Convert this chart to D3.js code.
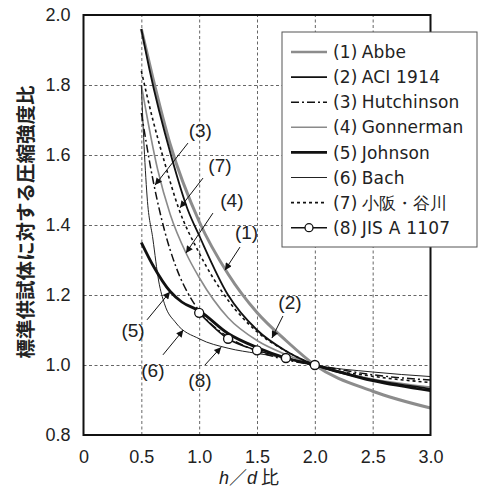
<!DOCTYPE html>
<html>
<head>
<meta charset="utf-8">
<script src="https://cdn.jsdelivr.net/npm/d3@7"></script>
<style>
  html, body { margin: 0; padding: 0; background: #fff; }
  svg { display: block; }
  .tick text { font-family: "Liberation Sans", Arial, sans-serif; font-size: 18px; fill: #222; }
  .grid line { stroke: #555; stroke-dasharray: 3,2.5; stroke-width: 0.9; }
  .grid .domain { display: none; }
  .lbl { font-family: "Liberation Sans", Arial, sans-serif; font-size: 19px; fill: #222; }
  .leg text { font-family: "DejaVu Sans", sans-serif; font-size: 17px; letter-spacing: 0.2px; fill: #222; }
</style>
</head>
<body>
<svg id="chart"></svg>
<script>
// ---- data (h/d ratio, strength ratio) ----
const abbe = [[0.5,1.96],[0.6,1.82],[0.75,1.63],[1.0,1.41],[1.25,1.26],[1.5,1.15],[1.75,1.07],[2.0,1.0],[2.5,0.925],[3.0,0.877]];
const aci1914 = [[0.5,1.96],[0.57,1.845],[0.76,1.595],[0.9,1.445],[1.0,1.37],[1.25,1.2],[1.5,1.1],[1.75,1.04],[2.0,1.0],[2.5,0.958],[3.0,0.932]];
const hutchinson = [[0.5,1.72],[0.6,1.53],[0.7,1.385],[0.8,1.28],[0.92,1.195],[1.0,1.155],[1.25,1.08],[1.5,1.04],[1.75,1.015],[2.0,1.0],[2.5,0.972],[3.0,0.957]];
const gonnerman = [[0.5,1.8],[0.64,1.56],[0.75,1.43],[0.886,1.32],[1.0,1.25],[1.25,1.135],[1.5,1.07],[1.75,1.03],[2.0,1.0],[2.5,0.96],[3.0,0.937]];
const johnson = [[0.5,1.35],[0.6,1.285],[0.75,1.21],[0.85,1.18],[1.0,1.155],[1.25,1.09],[1.5,1.05],[1.75,1.02],[2.0,1.0],[2.5,0.955],[3.0,0.927]];
const bach = [[0.5,1.8],[0.52,1.65],[0.55,1.48],[0.6,1.36],[0.65,1.24],[0.7,1.175],[0.8,1.12],[1.0,1.075],[1.25,1.048],[1.5,1.033],[1.75,1.02],[2.0,1.0],[2.5,0.98],[3.0,0.967]];
const kosaka = [[0.5,1.84],[0.6,1.7],[0.7,1.58],[0.82,1.45],[1.0,1.32],[1.25,1.185],[1.5,1.095],[1.75,1.04],[2.0,1.0],[2.5,0.968],[3.0,0.95]];
const jisA1107 = [[1.0,1.149],[1.25,1.075],[1.5,1.042],[1.75,1.02],[2.0,1.0]];

const seriesNames = ["(1)Abbe", "(2)ACI 1914", "(3)Hutchinson", "(4)Gonnerman", "(5)Johnson", "(6)Bach", "(7)小阪・谷川", "(8)JIS A 1107"];
const xTicks = [0, 0.5, 1.0, 1.5, 2.0, 2.5, 3.0];
const yTicks = [0.8, 1.0, 1.2, 1.4, 1.6, 1.8, 2.0];

// callout labels: text, label position, arrow start, arrow tip (data units)
const callouts = [
  { t: "(3)", at: [1.01, 1.651], from: [0.903, 1.634], to: [0.618, 1.514] },
  { t: "(7)", at: [1.18, 1.551], from: [1.033, 1.534], to: [0.834, 1.449] },
  { t: "(4)", at: [1.283, 1.451], from: [1.119, 1.434], to: [0.886, 1.32] },
  { t: "(1)", at: [1.41, 1.36], from: [1.353, 1.337], to: [1.223, 1.271] },
  { t: "(2)", at: [1.785, 1.16], from: [1.724, 1.14], to: [1.629, 1.077] },
  { t: "(5)", at: [0.428, 1.08], from: [0.549, 1.129], to: [0.748, 1.209] },
  { t: "(6)", at: [0.60, 0.966], from: [0.687, 1.029], to: [0.863, 1.10] },
  { t: "(8)", at: [1.007, 0.937], from: [1.05, 1.0], to: [1.19, 1.051] }
];

// ---- layout ----
const W = 478, H = 488;
const plotL = 83.5, plotR = 430.5, plotT = 15, plotB = 435;

const svg = d3.select('#chart').attr('width', W).attr('height', H);

const x = d3.scaleLinear().domain([0, 3]).range([plotL, plotR]);
const y = d3.scaleLinear().domain([0.8, 2.0]).range([plotB, plotT]);

// gridlines
svg.append('g')
    .attr('class', 'grid')
    .attr('transform', `translate(0,${plotB})`)
    .call(d3.axisBottom(x).tickValues(xTicks.slice(1, -1)).tickSize(-(plotB - plotT)).tickFormat(''));
svg.append('g')
    .attr('class', 'grid')
    .attr('transform', `translate(${plotL},0)`)
    .call(d3.axisLeft(y).tickValues(yTicks.slice(1, -1)).tickSize(-(plotR - plotL)).tickFormat(''));

// tick labels
const xAxis = svg.append('g')
    .attr('transform', `translate(0,${plotB})`)
    .call(d3.axisBottom(x).tickValues(xTicks).tickSize(0).tickPadding(15)
        .tickFormat(d => d === 0 ? '0' : d.toFixed(1)));
xAxis.select('.domain').remove();

const yAxis = svg.append('g')
    .attr('transform', `translate(${plotL},0)`)
    .call(d3.axisLeft(y).tickValues(yTicks).tickSize(0).tickPadding(13)
        .tickFormat(d => d.toFixed(1)));
yAxis.select('.domain').remove();

// curves
const line = d3.line().x(d => x(d[0])).y(d => y(d[1])).curve(d3.curveMonotoneX);

const styles = [
    { data: abbe, stroke: '#8c8c8c', w: 3 },
    { data: gonnerman, stroke: '#8a8a8a', w: 1.6 },
    { data: bach, stroke: '#222', w: 1 },
    { data: kosaka, stroke: '#111', w: 1.6, dash: '3,3' },
    { data: hutchinson, stroke: '#111', w: 1.5, dash: '8,3,2,3' },
    { data: johnson, stroke: '#111', w: 2.8 },
    { data: aci1914, stroke: '#111', w: 1.8 },
    { data: jisA1107, stroke: '#111', w: 1.5 }
];

const curves = svg.append('g').attr('fill', 'none');
styles.forEach(s => {
    curves.append('path')
        .attr('d', line(s.data))
        .attr('stroke', s.stroke)
        .attr('stroke-width', s.w)
        .attr('stroke-dasharray', s.dash || null);
});

svg.append('g').selectAll('circle')
    .data(jisA1107)
    .join('circle')
    .attr('cx', d => x(d[0]))
    .attr('cy', d => y(d[1]))
    .attr('r', 4.5)
    .attr('fill', '#fff')
    .attr('stroke', '#111')
    .attr('stroke-width', 1.3);

// frame
svg.append('rect')
    .attr('x', plotL).attr('y', plotT)
    .attr('width', plotR - plotL).attr('height', plotB - plotT)
    .attr('fill', 'none').attr('stroke', '#111').attr('stroke-width', 2);

// callouts with arrows
svg.append('defs').append('marker')
    .attr('id', 'head')
    .attr('viewBox', '0 0 10 10')
    .attr('refX', 10).attr('refY', 5)
    .attr('markerWidth', 9).attr('markerHeight', 7)
    .attr('markerUnits', 'userSpaceOnUse')
    .attr('orient', 'auto')
    .append('path').attr('d', 'M0,0L10,5L0,10Z').attr('fill', '#111');

const ann = svg.append('g');
callouts.forEach(c => {
    ann.append('line')
        .attr('x1', x(c.from[0])).attr('y1', y(c.from[1]))
        .attr('x2', x(c.to[0])).attr('y2', y(c.to[1]))
        .attr('stroke', '#111').attr('stroke-width', 1)
        .attr('marker-end', 'url(#head)');
    ann.append('text')
        .attr('class', 'lbl')
        .attr('x', x(c.at[0])).attr('y', y(c.at[1]))
        .attr('text-anchor', 'middle')
        .text(c.t);
});

// legend
const leg = svg.append('g').attr('class', 'leg');
leg.append('rect')
    .attr('x', 282).attr('y', 32).attr('width', 195).attr('height', 215)
    .attr('fill', '#fff').attr('stroke', '#555').attr('stroke-width', 1);

const legOrder = [abbe, aci1914, hutchinson, gonnerman, johnson, bach, kosaka, jisA1107];
seriesNames.forEach((name, i) => {
    const s = styles.find(st => st.data === legOrder[i]);
    const ly = 52 + i * 25.1;
    leg.append('line')
        .attr('x1', 291).attr('x2', 327).attr('y1', ly).attr('y2', ly)
        .attr('stroke', s.stroke).attr('stroke-width', Math.min(s.w, 2.6))
        .attr('stroke-dasharray', s.dash || null);
    if (legOrder[i] === jisA1107) {
        leg.append('circle').attr('cx', 309).attr('cy', ly).attr('r', 4)
            .attr('fill', '#fff').attr('stroke', '#111').attr('stroke-width', 1.3);
    }
    const tx = leg.append('text')
        .attr('x', 333).attr('y', ly).attr('dy', '0.36em');
    tx.append('tspan').text(name.slice(0, 3));
    tx.append('tspan').attr('dx', 4).text(name.slice(3));
});

// axis titles
svg.append('text')
    .attr('transform', 'translate(33,222) rotate(-90)')
    .attr('text-anchor', 'middle')
    .style('font-family', '"Noto Sans CJK JP", sans-serif')
    .style('font-size', '19.5px')
    .style('font-weight', 'bold')
    .attr('fill', '#222')
    .text('標準供試体に対する圧縮強度比');

const xt = svg.append('text')
    .attr('x', 249).attr('y', 484)
    .attr('text-anchor', 'middle')
    .style('font-family', '"Noto Sans CJK JP", sans-serif')
    .style('font-size', '18px')
    .attr('fill', '#222');
xt.append('tspan').style('font-style', 'italic').style('font-family', '"Liberation Sans", sans-serif').text('h');
xt.append('tspan').text('／');
xt.append('tspan').style('font-style', 'italic').style('font-family', '"Liberation Sans", sans-serif').text('d');
xt.append('tspan').text(' 比');
</script>
</body>
</html>
